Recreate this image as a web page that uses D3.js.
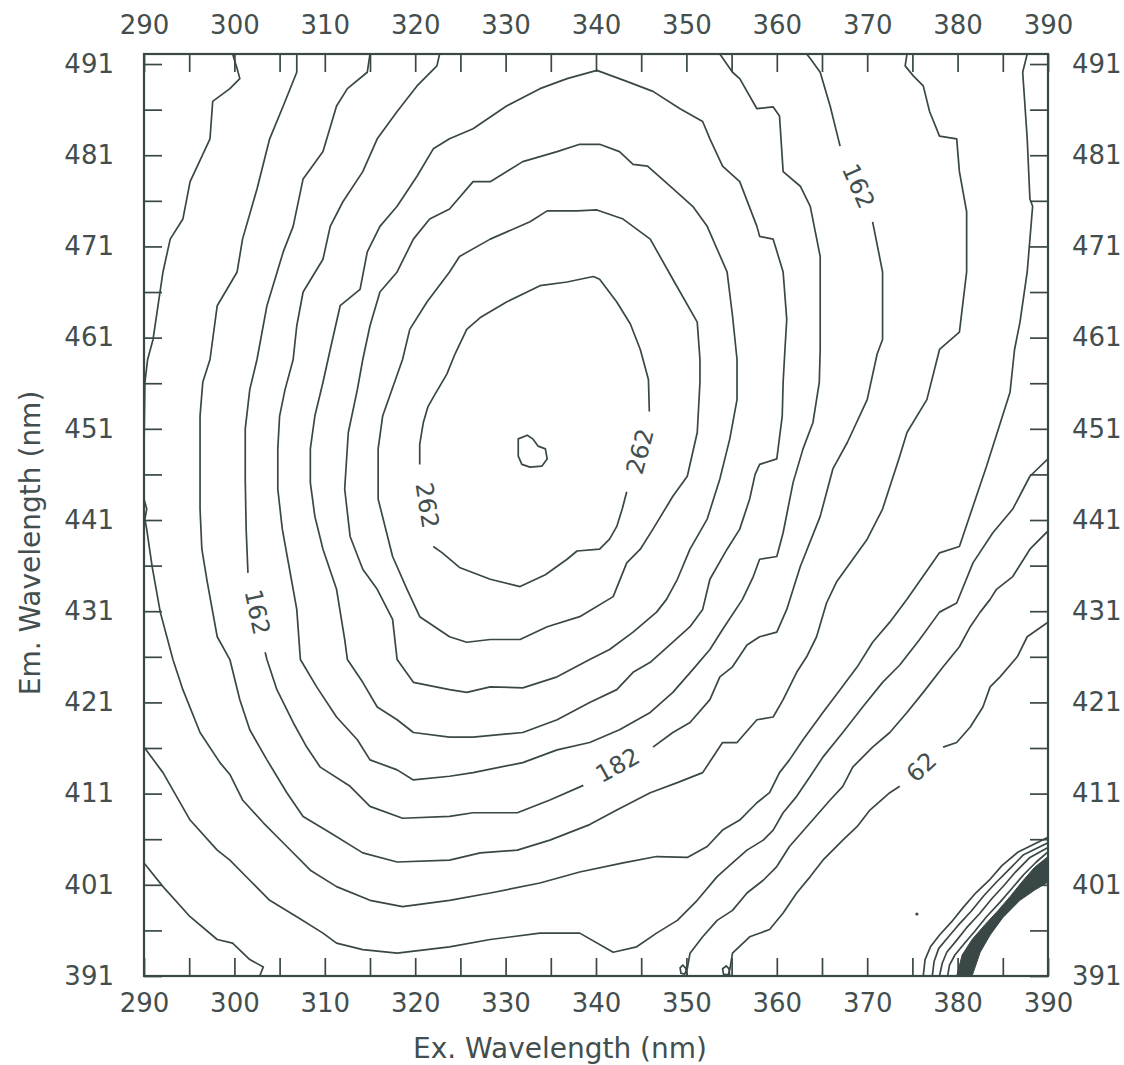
<!DOCTYPE html>
<html><head><meta charset="utf-8">
<script src="https://cdn.jsdelivr.net/npm/d3@7"></script>
<style>
html,body{margin:0;padding:0;background:#fff;}
svg{display:block;}
</style></head><body>
<svg id="chart" width="1124" height="1065"></svg>
<script>
// ---------- axes data ----------
const xDomain = [290, 390];
const yDomain = [391, 492.1];
const xTickValues = [290,295,300,305,310,315,320,325,330,335,340,345,350,355,360,365,370,375,380,385,390];
const xLabelValues = [290,300,310,320,330,340,350,360,370,380,390];
const yTickValues = [391,396,401,406,411,416,421,426,431,436,441,446,451,456,461,466,471,476,481,486,491];
const yLabelValues = [391,401,411,421,431,441,451,461,471,481,491];
const xTitle = "Ex. Wavelength (nm)";
const yTitle = "Em. Wavelength (nm)";

// ---------- contour lines, [Ex nm, Em nm] ----------
const c282 = [[331.4,449.9],[332.4,450.3],[333.0,449.9],[333.6,449.1],[334.4,448.8],[334.6,447.7],[334.0,446.9],[332.7,446.8],[331.8,447.1],[331.4,448.0],[331.4,449.1]];
const c262a = [[322.0,438.1],[323.0,437.4],[324.9,435.8],[328.3,434.5],[331.6,433.7],[334.4,435.0],[336.8,436.7],[337.9,437.6],[340.4,437.8],[341.5,438.9],[342.3,440.3],[342.9,442.2],[343.4,444.1]];
const c262b = [[345.9,452.9],[345.8,456.4],[344.9,459.7],[343.8,462.5],[342.3,464.9],[340.4,467.4],[339.7,467.7],[336.8,467.1],[333.8,466.7],[330.1,464.9],[327.2,463.2],[325.7,461.9],[324.4,459.2],[323.5,457.0],[322.2,454.8],[321.4,453.4],[320.9,451.7],[320.5,449.3],[320.5,447.1]];
const c242 = [[323.8,468.2],[324.9,469.9],[328.3,471.8],[332.7,473.7],[334.6,474.9],[337.9,474.9],[340.1,475.0],[343.0,474.0],[346.0,471.8],[348.5,467.4],[351.2,462.7],[351.5,458.6],[351.5,456.1],[351.2,450.6],[350.1,445.8],[348.5,443.6],[346.3,440.0],[344.9,437.8],[343.4,436.3],[341.9,432.6],[338.2,430.4],[334.6,429.3],[331.6,427.9],[328.3,427.9],[325.7,427.6],[323.8,428.2],[320.5,430.4],[319.1,433.4],[317.5,437.0],[315.9,443.3],[315.9,448.8],[316.4,452.4],[318.6,458.6],[319.4,461.9],[321.3,464.9]];
const c222 = [[347.8,432.3],[346.7,430.9],[344.1,428.7],[341.5,426.8],[339.3,425.7],[335.7,423.8],[331.9,422.6],[328.3,422.7],[325.7,422.1],[323.8,422.4],[319.8,423.2],[318.0,425.7],[317.5,430.1],[315.8,433.4],[314.2,435.6],[312.8,439.2],[312.2,444.4],[312.6,450.6],[313.6,455.3],[314.2,458.6],[315.0,462.3],[316.1,466.0],[318.0,468.2],[319.8,471.8],[321.6,474.0],[323.8,475.1],[326.4,478.1],[328.3,478.1],[331.9,480.3],[335.7,481.4],[338.2,482.2],[340.4,482.2],[342.6,481.4],[344.1,480.0],[345.7,479.8],[348.2,477.6],[350.7,475.4],[352.3,473.2],[354.5,468.2],[355.1,463.4],[355.6,458.6],[355.6,454.2],[354.8,449.9],[353.7,445.5],[352.3,441.1],[350.4,437.8],[349.0,434.5]];
const c202 = [[340.1,490.3],[343.4,489.1],[346.3,488.0],[349.3,486.1],[351.8,484.7],[352.6,482.8],[354.0,479.8],[355.9,478.1],[357.8,473.2],[358.1,472.1],[359.6,471.8],[360.7,468.2],[361.1,463.0],[360.9,459.7],[360.7,456.1],[360.6,452.4],[360.0,447.7],[358.1,447.1],[357.6,446.0],[357.0,443.3],[355.9,440.0],[354.5,437.8],[352.6,434.5],[351.8,431.2],[350.4,429.3],[348.5,427.6],[346.0,425.4],[344.1,424.3],[342.3,422.4],[339.3,421.0],[335.7,419.1],[331.9,417.7],[326.4,417.2],[323.8,417.2],[319.8,417.7],[318.0,419.1],[315.8,420.5],[314.2,423.2],[312.5,425.7],[312.2,427.9],[311.3,433.4],[309.8,437.8],[308.9,441.4],[308.4,445.1],[308.4,448.8],[308.9,452.4],[309.8,456.1],[310.6,459.7],[311.7,464.5],[313.9,466.3],[314.7,470.4],[316.1,473.2],[318.0,475.4],[320.2,478.7],[322.0,481.7],[323.8,482.8],[326.4,483.9],[330.1,486.4],[333.8,488.3],[336.8,489.4]];
const c182 = [[322.7,492.1],[322.4,490.8],[320.2,488.6],[318.0,485.8],[315.8,482.8],[314.2,479.2],[312.0,475.9],[310.6,473.2],[309.8,469.6],[307.6,466.0],[306.9,462.3],[306.5,458.6],[305.6,455.3],[305.0,452.4],[304.8,448.8],[304.8,444.4],[305.3,440.0],[306.1,435.6],[306.9,431.2],[307.3,425.7],[309.1,422.7],[311.3,419.4],[313.6,416.9],[315.0,414.7],[318.0,413.6],[319.8,412.5],[323.8,412.9],[326.4,413.3],[331.9,414.4],[335.7,415.8],[339.3,416.6],[342.6,418.0],[346.0,419.9],[348.5,422.1],[350.7,424.6],[352.6,426.8],[354.0,429.0],[356.2,432.3],[357.4,434.8],[358.1,436.7],[360.0,437.0],[360.7,439.6],[361.8,445.1],[362.9,448.8],[364.0,451.7],[364.7,456.1],[364.8,459.7],[364.8,469.9],[363.7,475.4],[362.6,477.6],[360.7,479.2],[360.3,485.3],[359.6,486.3],[357.8,486.1],[355.9,489.4],[355.1,490.1],[353.7,492.1]];
const c162a = [[315.0,492.1],[314.7,490.1],[312.5,488.3],[311.3,486.4],[309.8,481.4],[307.6,478.4],[306.5,473.2],[305.4,470.4],[303.6,464.5],[302.5,458.6],[301.7,455.3],[301.2,451.0],[301.2,445.5],[301.3,440.0],[301.5,435.2]];
const c162b = [[303.4,426.5],[303.6,425.7],[304.7,422.4],[306.5,418.8],[308.0,416.1],[309.5,413.9],[312.8,411.8],[315.0,409.6],[318.6,408.3],[323.8,408.5],[326.4,408.9],[331.3,408.9],[334.9,410.3],[338.6,411.9]];
const c162c = [[346.3,416.1],[348.5,417.7],[350.4,418.8],[352.6,421.3],[353.7,423.8],[355.1,424.9],[356.7,427.3],[358.1,428.2],[360.0,428.7],[361.1,431.2],[362.6,435.9],[364.8,441.4],[366.2,446.6],[367.8,449.5],[370.0,454.2],[371.1,459.2],[371.7,460.8],[371.7,468.2],[370.6,473.7]];
const c162d = [[367.0,482.0],[365.9,486.4],[364.8,490.1],[363.7,491.6],[363.3,492.1]];
const c142 = [[306.9,492.1],[306.9,490.1],[305.4,486.4],[303.9,482.8],[302.5,477.3],[300.9,471.8],[300.3,468.2],[298.1,464.5],[297.3,458.6],[296.5,456.1],[296.2,452.4],[296.2,448.8],[296.2,442.2],[296.4,437.8],[297.0,434.2],[298.1,428.2],[299.5,425.7],[300.6,421.3],[301.7,418.0],[303.6,414.7],[305.8,411.1],[307.6,408.5],[310.6,406.7],[314.2,404.5],[318.0,403.5],[323.8,403.7],[327.2,404.5],[331.3,404.8],[334.9,405.9],[339.3,407.6],[342.3,409.2],[346.0,411.1],[349.0,412.2],[351.8,413.3],[354.0,416.6],[355.6,416.6],[357.8,419.1],[359.6,419.4],[360.7,421.3],[362.2,424.3],[363.3,426.0],[364.4,428.2],[365.5,431.9],[366.6,434.2],[370.0,438.9],[371.7,442.2],[373.6,448.0],[374.4,450.6],[376.6,454.2],[378.0,459.7],[380.2,461.6],[381.0,468.2],[381.0,474.8],[380.2,479.2],[379.9,482.8],[378.0,483.1],[376.9,485.8],[376.2,488.6],[375.1,489.7],[374.2,490.8],[374.4,492.1]];
const c122 = [[299.8,492.1],[300.3,490.5],[300.6,489.4],[299.5,488.3],[297.6,486.9],[297.3,482.8],[295.9,479.8],[295.1,478.1],[294.3,474.0],[292.9,471.8],[292.1,468.2],[291.0,460.8],[290.4,458.6],[290.1,456.1],[290.0,448.8],[290.0,443.3],[290.3,442.2],[290.1,441.1],[290.3,440.0],[290.9,435.9],[291.8,430.9],[293.2,425.7],[294.3,422.4],[296.2,417.7],[298.4,414.4],[299.5,413.1],[300.9,410.3],[303.2,407.8],[305.8,405.2],[308.4,402.6],[311.3,400.8],[315.0,399.3],[318.6,398.6],[323.8,399.3],[328.3,400.1],[333.8,401.2],[338.2,402.4],[343.0,403.4],[346.7,404.1],[350.1,404.0],[352.3,405.2],[354.0,407.0],[355.9,408.1],[357.8,410.0],[359.2,411.1],[360.3,413.3],[361.4,414.7],[362.9,416.9],[365.1,419.9],[367.0,422.4],[368.9,424.9],[370.6,427.6],[372.5,429.8],[374.4,432.3],[378.0,437.4],[380.2,438.1],[383.2,446.9],[385.8,455.0],[386.3,459.7],[386.9,462.7],[387.7,468.2],[388.3,475.4],[388.0,476.2],[387.7,482.8],[387.2,490.1],[387.7,492.1]];
const c102 = [[290.0,416.1],[292.1,413.3],[295.1,408.1],[298.1,404.8],[299.5,403.7],[301.7,401.5],[303.9,399.3],[306.9,397.5],[309.8,395.7],[311.3,394.6],[314.2,393.9],[318.0,393.5],[323.8,394.2],[328.3,395.0],[333.8,395.7],[338.2,395.7],[341.9,393.6],[344.5,394.2],[346.7,395.7],[349.0,397.1],[351.2,399.3],[353.4,401.9],[355.1,403.4],[356.7,404.8],[358.5,405.9],[359.6,407.0],[360.7,408.9],[362.2,410.7],[363.7,412.9],[365.1,415.0],[367.3,417.7],[369.5,420.5],[371.7,423.2],[373.6,425.1],[375.8,427.9],[378.0,430.9],[379.9,431.9],[381.7,436.3],[383.9,439.6],[386.1,442.2],[388.0,445.8],[390.0,447.7]];
const c82a = [[290.0,403.4],[292.1,400.8],[295.1,397.5],[298.1,395.0],[299.8,394.6],[301.7,392.8],[303.2,392.0],[302.8,391.0]];
const c82b = [[350.1,391.0],[349.9,391.9],[349.6,392.2],[349.3,391.9],[349.4,391.3],[349.8,391.2],[350.1,391.8],[350.4,393.5],[351.8,395.3],[353.4,397.1],[355.1,398.2],[356.7,400.1],[358.5,401.5],[360.0,403.0],[361.4,405.2],[363.7,407.8],[365.9,410.3],[367.3,411.8],[368.4,413.9],[370.6,416.1],[372.5,417.7],[374.4,419.9],[376.2,422.1],[378.4,424.9],[380.2,427.1],[381.4,429.3],[382.5,430.9],[383.6,432.3],[384.3,433.4],[386.1,434.8],[388.0,437.8],[390.0,439.8]];
const c62a = [[354.8,391.0],[354.7,391.8],[354.4,392.1],[354.0,391.8],[354.1,391.2],[354.6,391.1],[354.8,391.7],[355.1,393.5],[357.0,395.3],[359.2,396.1],[360.7,397.9],[362.2,400.1],[363.7,401.9],[365.1,403.7],[367.3,405.9],[368.9,407.4],[370.3,409.2],[372.5,411.1],[373.6,411.8]];
const c62b = [[378.4,416.1],[379.9,416.6],[381.4,418.3],[382.8,420.5],[383.6,422.7],[384.7,423.8],[386.6,426.0],[387.7,428.2],[390.0,429.8]];
// scatter ridge, lower right corner
const s1 = [[376.2,391.0],[376.4,392.8],[377.0,394.2],[378.0,395.5],[379.3,396.9],[380.6,398.5],[382.0,400.1],[383.5,401.5],[384.9,403.1],[386.7,404.6],[390.0,406.2]];
const s2 = [[377.2,391.0],[377.4,392.6],[377.9,394.0],[378.9,395.2],[380.1,396.6],[381.5,398.1],[382.9,399.8],[384.2,401.2],[385.7,402.7],[387.3,404.3],[390.0,405.6]];
const s3 = [[378.0,391.0],[378.3,392.4],[378.8,393.6],[379.8,394.8],[381.0,396.3],[382.4,397.8],[383.8,399.5],[385.1,400.9],[386.4,402.4],[388.0,404.0],[390.0,405.1]];
const s4 = [[378.9,391.0],[379.1,392.2],[379.7,393.3],[380.7,394.5],[381.9,395.9],[383.2,397.5],[384.7,399.1],[386.0,400.6],[387.3,402.1],[388.7,403.5],[390.0,404.6]];
const scatterBand = [[379.9,391.0],[380.5,393.3],[381.6,395.0],[383.0,396.6],[384.5,398.2],[385.8,399.7],[387.1,401.3],[388.5,402.9],[390.0,404.1],[390.0,401.3],[388.5,400.4],[386.9,399.3],[385.0,397.4],[383.6,395.5],[382.5,393.6],[381.6,391.0]];
const strayDot = [375.5, 397.8];

const closedContours = [c282, c242, c222, c202];
const openContours = [c262a, c262b, c182, c162a, c162b, c162c, c162d, c142, c122, c102, c82a, c82b, c62a, c62b, s1, s2, s3, s4];

// contour labels
const labelTexts = ["262", "262", "162", "162", "182", "62"];
const labelPoints = [[321.3,442.6],[344.9,448.5],[302.5,430.9],[369.0,477.6],[342.4,414.1],[376.0,413.9]];
const labelAngles = [81, -75, 78, 66, -29, -43];

// ---------- drawing ----------
const INK = "#3a4747";
const TXT = "#434e4e";
const FONT = "'DejaVu Sans', Verdana, sans-serif";
const svg = d3.select("#chart");
const L = 144, R = 1048, T = 54, B = 976;
const x = d3.scaleLinear().domain(xDomain).range([L, R]);
const y = d3.scaleLinear().domain(yDomain).range([B, T]);

svg.append("rect").attr("width",1124).attr("height",1065).attr("fill","#fff");

svg.append("defs").append("clipPath").attr("id","plotclip")
  .append("rect").attr("x",L).attr("y",T).attr("width",R-L).attr("height",B-T);

const plot = svg.append("g").attr("clip-path","url(#plotclip)");
const lineOpen = d3.line().x(d=>x(d[0])).y(d=>y(d[1])).curve(d3.curveLinear);
const lineClosed = d3.line().x(d=>x(d[0])).y(d=>y(d[1])).curve(d3.curveLinearClosed);

plot.append("path").attr("d", lineClosed(scatterBand)).attr("fill", INK).attr("stroke", INK).attr("stroke-width",1);

plot.selectAll("path.closed").data(closedContours).join("path")
  .attr("class","closed").attr("d", d=>lineClosed(d))
  .attr("fill","none").attr("stroke",INK).attr("stroke-width",1.7).attr("stroke-linejoin","round");
plot.selectAll("path.open").data(openContours).join("path")
  .attr("class","open").attr("d", d=>lineOpen(d))
  .attr("fill","none").attr("stroke",INK).attr("stroke-width",1.7).attr("stroke-linejoin","round");
plot.append("circle").attr("cx", x(strayDot[0])).attr("cy", y(strayDot[1])).attr("r",1.6).attr("fill",INK);

svg.append("g").selectAll("text").data(labelTexts).join("text")
  .attr("transform",(d,i)=>`translate(${x(labelPoints[i][0])},${y(labelPoints[i][1])}) rotate(${labelAngles[i]})`)
  .attr("text-anchor","middle").attr("dominant-baseline","central")
  .attr("font-family",FONT).attr("font-size",24).attr("fill",TXT)
  .text(d=>d);

// axes
function styleAxis(g){
  g.select(".domain").remove();
  g.selectAll(".tick line").attr("stroke",INK).attr("stroke-width",1.7);
  g.selectAll(".tick text").attr("fill",TXT);
  g.attr("font-family",FONT).attr("font-size",26);
}
const xfmt = d => xLabelValues.includes(d) ? String(d) : "";
const yfmt = d => yLabelValues.includes(d) ? String(d) : "";
svg.append("g").attr("transform",`translate(0,${B})`)
  .call(d3.axisBottom(x).tickValues(xTickValues).tickSize(-18).tickPadding(18).tickFormat(xfmt)).call(styleAxis);
svg.append("g").attr("transform",`translate(0,${T})`)
  .call(d3.axisTop(x).tickValues(xTickValues).tickSize(-18).tickPadding(20).tickFormat(xfmt)).call(styleAxis);
svg.append("g").attr("transform",`translate(${L},0)`)
  .call(d3.axisLeft(y).tickValues(yTickValues).tickSize(-18).tickPadding(30).tickFormat(yfmt)).call(styleAxis);
svg.append("g").attr("transform",`translate(${R},0)`)
  .call(d3.axisRight(y).tickValues(yTickValues).tickSize(-18).tickPadding(24).tickFormat(yfmt)).call(styleAxis);

svg.append("rect").attr("x",L).attr("y",T).attr("width",R-L).attr("height",B-T)
  .attr("fill","none").attr("stroke",INK).attr("stroke-width",2.2);

svg.append("text").attr("x",(L+R)/2 - 36).attr("y",1058).attr("text-anchor","middle")
  .attr("font-family",FONT).attr("font-size",28).attr("fill",TXT).text(xTitle);
svg.append("text").attr("transform",`translate(40,${(T+B)/2 + 28}) rotate(-90)`).attr("text-anchor","middle")
  .attr("font-family",FONT).attr("font-size",28).attr("fill",TXT).text(yTitle);
</script>
</body></html>
